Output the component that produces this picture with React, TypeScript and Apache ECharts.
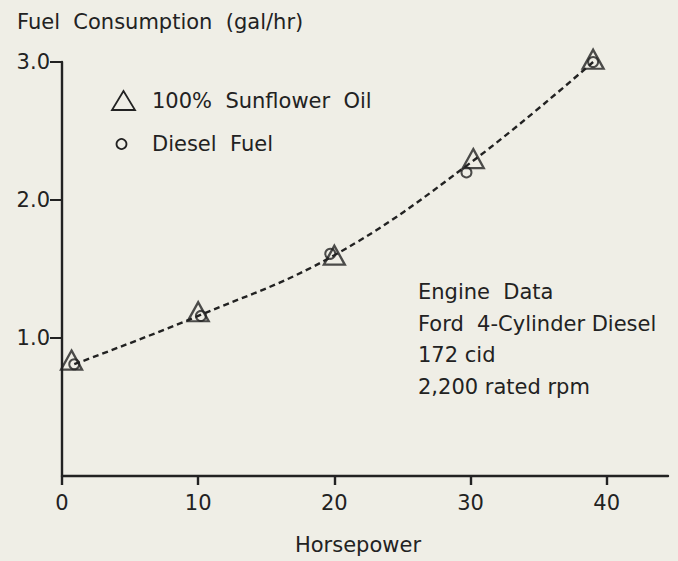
import React, { useEffect, useRef } from "react";
import * as echarts from "echarts";

const xTicks = [0, 10, 20, 30, 40];
const yTicks = [1, 2, 3];
const sunflowerHp = [0.7, 10.0, 20.0, 30.2, 39.0];
const sunflowerFuel = [0.84, 1.19, 1.6, 2.3, 3.02];
const dieselHp = [0.9, 10.2, 19.7, 29.7, 39.0];
const dieselFuel = [0.81, 1.16, 1.61, 2.2, 3.0];
const curveHp = [0.9, 10, 20, 30, 39];
const curveFuel = [0.81, 1.16, 1.6, 2.27, 3.0];
const engineLines = ["Engine  Data", "Ford  4-Cylinder Diesel", "172 cid", "2,200 rated rpm"];

const INK = "#222222";
const FONT = "'DejaVu Sans', 'Liberation Sans', sans-serif";
const FS = 21;

export default function App() {
  const ref = useRef<HTMLDivElement>(null);
  useEffect(() => {
    if (!ref.current) return;
    const chart = echarts.init(ref.current, undefined, { renderer: "svg" });
    const txt = (text: string, x: number, y: number, extra: any = {}) => ({
      type: "text",
      x,
      y,
      style: {
        text,
        fill: INK,
        font: `${FS}px ${FONT}`,
        textVerticalAlign: "middle",
        ...extra,
      },
    });
    chart.setOption({
      animation: false,
      backgroundColor: "#efeee6",
      grid: { left: 62, top: 62, right: 10, bottom: 85 },
      xAxis: {
        type: "value",
        min: 0,
        max: 44.5,
        interval: 10,
        splitLine: { show: false },
        axisLine: { lineStyle: { color: INK, width: 2.4 } },
        axisTick: { customValues: xTicks, length: 9, lineStyle: { color: INK, width: 2.4 } },
        axisLabel: {
          customValues: xTicks,
          margin: 16,
          color: INK,
          fontFamily: FONT,
          fontSize: FS,
        },
      },
      yAxis: {
        type: "value",
        min: 0,
        max: 3,
        interval: 1,
        splitLine: { show: false },
        axisLine: { onZero: false, lineStyle: { color: INK, width: 2.4 } },
        axisTick: { customValues: yTicks, length: 12, lineStyle: { color: INK, width: 2 } },
        axisLabel: {
          customValues: yTicks,
          margin: 12,
          color: INK,
          fontFamily: FONT,
          fontSize: FS,
          formatter: (v: number) => v.toFixed(1),
        },
      },
      series: [
        {
          type: "line",
          name: "curve",
          data: curveHp.map((x, i) => [x, curveFuel[i]]),
          smooth: 0.4,
          showSymbol: false,
          clip: false,
          lineStyle: { color: INK, width: 2.4, type: [6, 4] },
          z: 1,
        },
        {
          type: "scatter",
          name: "100% Sunflower Oil",
          data: sunflowerHp.map((x, i) => [x, sunflowerFuel[i]]),
          symbol: "triangle",
          symbolSize: [21, 19],
          clip: false,
          itemStyle: { color: "rgba(0,0,0,0)", borderColor: INK, borderWidth: 2.3 },
          z: 3,
        },
        {
          type: "scatter",
          name: "Diesel Fuel",
          data: dieselHp.map((x, i) => [x, dieselFuel[i]]),
          symbol: "circle",
          symbolSize: 10,
          clip: false,
          itemStyle: { color: "rgba(0,0,0,0)", borderColor: INK, borderWidth: 2 },
          z: 3,
        },
      ],
      graphic: [
        txt("Fuel  Consumption  (gal/hr)", 17, 22),
        txt("Horsepower", 358, 545, { textAlign: "center" }),
        {
          type: "polygon",
          shape: { points: [[123.5, 91], [112, 110], [135, 110]] },
          style: { fill: "none", stroke: INK, lineWidth: 1.8 },
        },
        {
          type: "circle",
          shape: { cx: 121.5, cy: 144, r: 5 },
          style: { fill: "none", stroke: INK, lineWidth: 1.8 },
        },
        txt("100%  Sunflower  Oil", 152, 101),
        txt("Diesel  Fuel", 152, 144),
        ...engineLines.map((t, i) => txt(t, 418, 292 + i * 31.7)),
      ],
    });
    return () => chart.dispose();
  }, []);
  return (
    <div
      ref={ref}
      style={{ position: "fixed", left: 0, top: 0, width: 678, height: 561 }}
    />
  );
}
